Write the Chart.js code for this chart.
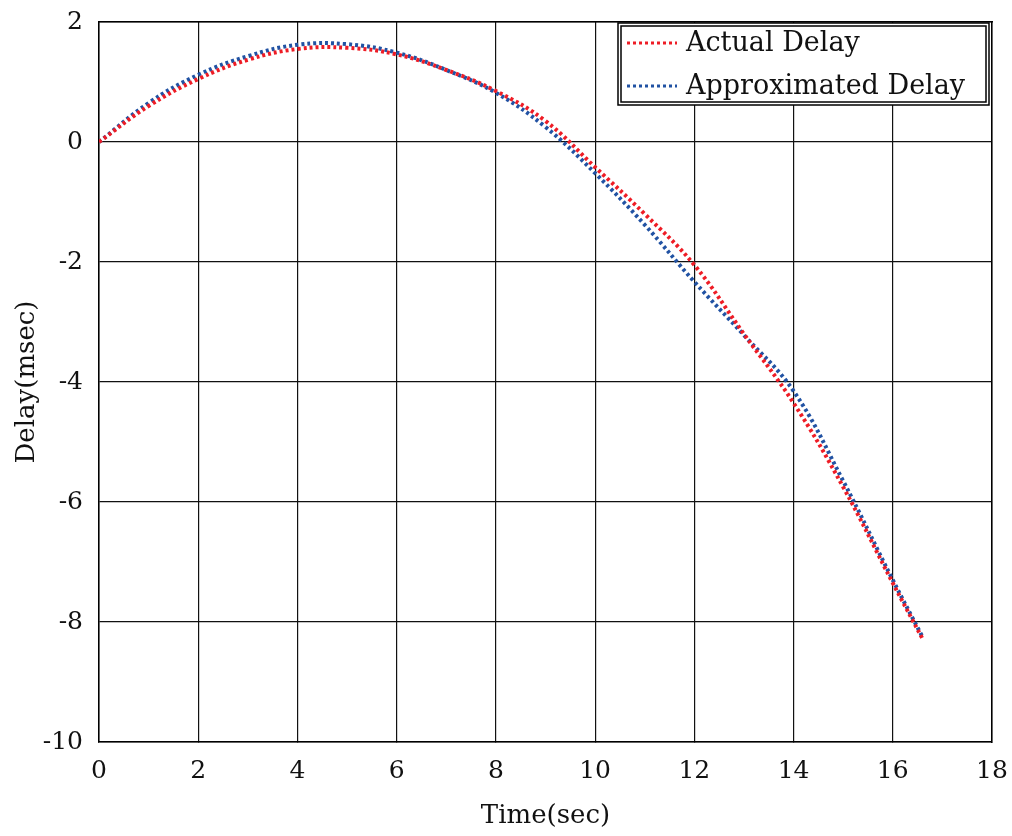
<!DOCTYPE html>
<html>
<head>
<meta charset="utf-8">
<script src="https://cdn.jsdelivr.net/npm/chart.js@4/dist/chart.umd.min.js"></script>
<style>
  body { margin: 0; background: #fff; }
  #wrap { width: 1012px; height: 836px; }
</style>
</head>
<body>
<div id="wrap"><canvas id="chart"></canvas></div>
<script>
// time (sec)
const times = [0, 1, 2, 3, 4, 5, 6, 7, 8, 9, 10, 11, 12, 13, 14, 15, 16, 16.6];
// delay (msec)
const actualDelay = [0, 0.6, 1.05, 1.37, 1.55, 1.57, 1.46, 1.2, 0.85, 0.35, -0.42, -1.2, -2.05, -3.2, -4.35, -5.75, -7.35, -8.28];
const approxDelay = [0, 0.65, 1.12, 1.43, 1.62, 1.63, 1.49, 1.2, 0.82, 0.25, -0.52, -1.38, -2.33, -3.22, -4.15, -5.65, -7.3, -8.25];
const seriesNames = ['Actual Delay', 'Approximated Delay'];
const xTicks = [0, 2, 4, 6, 8, 10, 12, 14, 16, 18];
const yTicks = [-10, -8, -6, -4, -2, 0, 2];

const FONT = '"DejaVu Serif", "Liberation Serif", serif';
const RED = '#ee1c25';
const BLUE = '#2152a3';

const toPoints = (ys) => ys.map((y, i) => ({ x: times[i], y }));

// no extra room for the end tick labels, the plot box is placed by hand
const noPad = (axis) => {
  axis.paddingTop = 0;
  axis.paddingBottom = 0;
  axis.paddingLeft = 0;
  axis.paddingRight = 0;
};

// legend box drawn inside the plot, top right
const boxLegend = {
  id: 'boxLegend',
  afterDraw(chart) {
    const ctx = chart.ctx;
    const x0 = 618, y0 = 23, x1 = 989, y1 = 105;
    ctx.save();
    ctx.fillStyle = '#fff';
    ctx.fillRect(x0, y0, x1 - x0, y1 - y0);
    ctx.strokeStyle = '#000';
    ctx.lineWidth = 1.5;
    ctx.strokeRect(x0, y0, x1 - x0, y1 - y0);
    ctx.strokeRect(x0 + 3, y0 + 3, x1 - x0 - 6, y1 - y0 - 6);
    chart.data.datasets.forEach((ds, i) => {
      const y = 43 + i * 43;
      ctx.strokeStyle = ds.borderColor;
      ctx.lineWidth = 3;
      ctx.setLineDash([3, 3]);
      ctx.beginPath();
      ctx.moveTo(627, y);
      ctx.lineTo(677, y);
      ctx.stroke();
      ctx.setLineDash([]);
      ctx.fillStyle = '#111';
      ctx.font = '27px ' + FONT;
      ctx.textBaseline = 'middle';
      ctx.fillText(ds.label, 686, y + 1);
    });
    ctx.restore();
  }
};

new Chart(document.getElementById('chart').getContext('2d'), {
  type: 'line',
  data: {
    datasets: [
      {
        label: seriesNames[0],
        data: toPoints(actualDelay),
        borderColor: RED,
        borderWidth: 4,
        borderDash: [3, 3],
        tension: 0.4,
        pointRadius: 0,
        fill: false,
      },
      {
        label: seriesNames[1],
        data: toPoints(approxDelay),
        borderColor: BLUE,
        borderWidth: 4,
        borderDash: [3, 3],
        tension: 0.4,
        pointRadius: 0,
        fill: false,
      },
    ],
  },
  options: {
    animation: false,
    responsive: true,
    maintainAspectRatio: false,
    layout: { padding: { top: 22, right: 20, left: 0, bottom: 0 } },
    plugins: {
      legend: { display: false },
      tooltip: { enabled: false },
    },
    scales: {
      x: {
        type: 'linear',
        min: 0,
        max: 18,
        afterBuildTicks: (axis) => { axis.ticks = xTicks.map((v) => ({ value: v })); },
        afterFit: (axis) => { axis.height = 94; noPad(axis); },
        grid: { color: '#111', lineWidth: 1.2, tickLength: 0 },
        border: { color: '#000', width: 1.5 },
        ticks: { color: '#111', padding: 14, font: { family: FONT, size: 25 } },
        title: {
          display: true,
          text: 'Time(sec)',
          color: '#111',
          font: { family: FONT, size: 26 },
          padding: { top: 8 },
        },
      },
      y: {
        type: 'linear',
        min: -10,
        max: 2,
        afterBuildTicks: (axis) => { axis.ticks = yTicks.map((v) => ({ value: v })); },
        afterFit: (axis) => { axis.width = 99; noPad(axis); },
        grid: { color: '#111', lineWidth: 1.2, tickLength: 0 },
        border: { color: '#000', width: 1.5 },
        ticks: { color: '#111', padding: 16, font: { family: FONT, size: 25 } },
        title: {
          display: true,
          text: 'Delay(msec)',
          color: '#111',
          font: { family: FONT, size: 26 },
          padding: { top: 12, bottom: 0 },
        },
      },
      x2: {
        type: 'linear', position: 'top', min: 0, max: 18,
        grid: { display: false }, ticks: { display: false },
        border: { color: '#000', width: 1.5 },
        afterFit: (axis) => { axis.height = 0; noPad(axis); },
      },
      y2: {
        type: 'linear', position: 'right', min: -10, max: 2,
        grid: { display: false }, ticks: { display: false },
        border: { color: '#000', width: 1.5 },
        afterFit: (axis) => { axis.width = 0; noPad(axis); },
      },
    },
  },
  plugins: [boxLegend],
});
</script>
</body>
</html>
